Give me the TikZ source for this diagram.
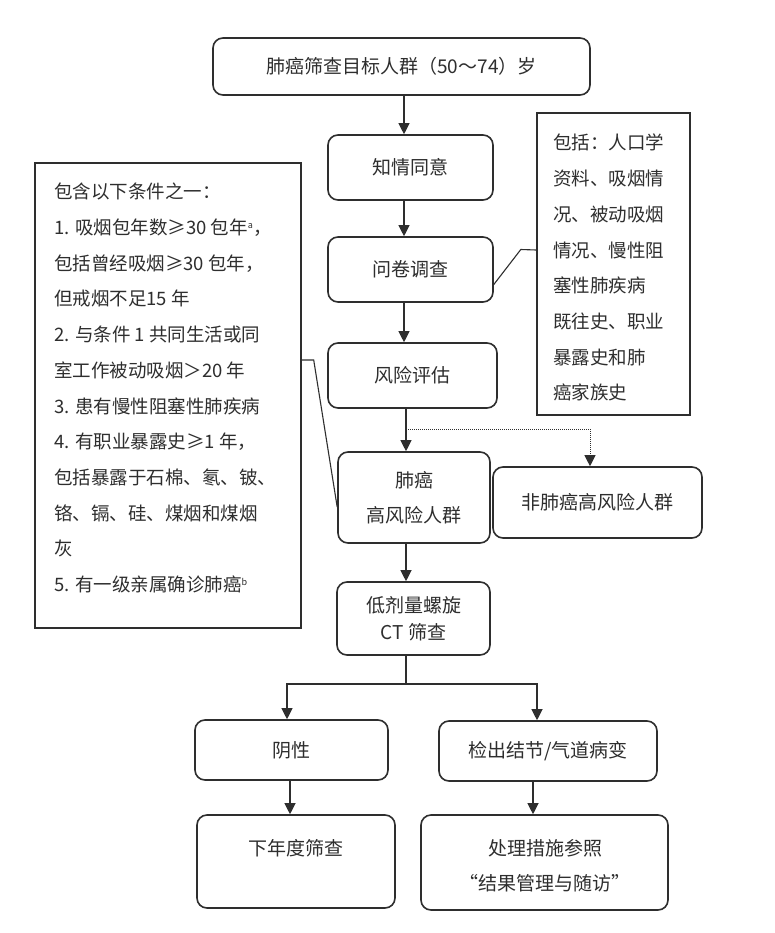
\documentclass[tikz,border=0pt]{standalone}
\usepackage{fontspec}
\setmainfont{Noto Sans CJK SC}
\usetikzlibrary{arrows.meta,calc}
\definecolor{ink}{gray}{0.18}
\begin{document}
\begin{tikzpicture}[x=1pt,y=-1pt,
  rbox/.style={draw=ink, line width=1.6pt, rounded corners=10pt, align=center, inner sep=0pt, text=ink, font=\fontsize{19}{35}\selectfont},
  sbox/.style={draw=ink, line width=1.4pt, inner sep=0pt},
  arr/.style={draw=ink, line width=1.1pt, -{Triangle[length=11pt,width=11pt]}},
  conn/.style={draw=ink, line width=1.1pt},
  dot/.style={draw=ink, line width=1pt, densely dotted, -{Triangle[length=11pt,width=11pt]}},
  txt/.style={text=ink, inner sep=0pt, align=left, font=\fontsize{18.5}{35.7}\selectfont}
]
\useasboundingbox[fill=white] (0,0) rectangle (774,933);

% main boxes
\node[rbox, minimum width=377pt, minimum height=57pt] (top) at (401.5,66.5) {肺癌筛查目标人群（50～74）岁};
\node[rbox, minimum width=165pt, minimum height=65pt] (zq) at (410.5,167.5) {知情同意};
\node[rbox, minimum width=165pt, minimum height=65pt] (wj) at (410.5,269.5) {问卷调查};
\node[rbox, minimum width=169pt, minimum height=65pt] (fx) at (412.5,375.5) {风险评估};
\node[rbox, minimum width=152pt, minimum height=91pt] (gw) at (414,497.5) {肺癌\\高风险人群};
\node[rbox, minimum width=209pt, minimum height=71pt] (fgw) at (597.5,502.5) {非肺癌高风险人群};
\node[rbox, minimum width=153pt, minimum height=73pt, font=\fontsize{19}{27}\selectfont] (ct) at (413.5,618.5) {低剂量螺旋\\CT 筛查};
\node[rbox, minimum width=193pt, minimum height=60pt] (yx) at (291.5,750) {阴性};
\node[rbox, minimum width=218pt, minimum height=60pt] (jc) at (548,751) {检出结节/气道病变};
\node[rbox, minimum width=198pt, minimum height=93pt] (xn) at (296,861.5) {};
\node[txt, align=center, font=\fontsize{19}{35}\selectfont] (xnt) at (296,848) {下年度筛查};
\node[rbox, minimum width=247pt, minimum height=95pt] (cl) at (544.5,862.5) {};
\node[txt, align=center, font=\fontsize{19}{35}\selectfont] (clt) at (545,865.5) {处理措施参照\\“结果管理与随访”};

% side boxes
\node[sbox, minimum width=266pt, minimum height=465pt] (lb) at (168,395.5) {};
\node[txt, anchor=north west] (lbt) at (54,183) {包含以下条件之一：\\
1. 吸烟包年数≥30 包年\textsuperscript{\fontsize{9}{9}\selectfont a}，\\
包括曾经吸烟≥30 包年，\\
但戒烟不足15 年\\
2. 与条件 1 共同生活或同\\
室工作被动吸烟＞20 年\\
3. 患有慢性阻塞性肺疾病\\
4. 有职业暴露史≥1 年，\\
包括暴露于石棉、氡、铍、\\
铬、镉、硅、煤烟和煤烟\\
灰\\
5. 有一级亲属确诊肺癌\textsuperscript{\fontsize{9}{9}\selectfont b}};
\node[sbox, minimum width=153pt, minimum height=302pt] (rb) at (613.5,264) {};
\node[txt, anchor=north west] (rbt) at (553,134) {包括：人口学\\
资料、吸烟情\\
况、被动吸烟\\
情况、慢性阻\\
塞性肺疾病\\
既往史、职业\\
暴露史和肺\\
癌家族史};

% axis coordinates
\coordinate (ax) at (404,0);
\coordinate (ay) at (406,0);
\coordinate (dx) at (590,0);
\coordinate (sy) at (0,684);
\coordinate (dy) at (0,429);
\coordinate (lx) at (287,0);
\coordinate (rx) at (537,0);
\coordinate (lx2) at (290,0);
\coordinate (rx2) at (533,0);

% arrows
\draw[arr] (top.south -| ax) -- (zq.north -| ax);
\draw[arr] (zq.south -| ax) -- (wj.north -| ax);
\draw[arr] (wj.south -| ax) -- (fx.north -| ax);
\draw[arr] (fx.south -| ay) -- (gw.north -| ay);
\draw[dot] (dy -| ay) -- (dy -| dx) -- (fgw.north -| dx);
\draw[arr] (gw.south -| ay) -- (ct.north -| ay);
\draw[conn] (ct.south -| ay) -- (sy -| ay);
\draw[arr] (sy -| ay) -- (sy -| lx) -- (yx.north -| lx);
\draw[arr] (sy -| ay) -- (sy -| rx) -- (jc.north -| rx);
\draw[arr] (yx.south -| lx2) -- (xn.north -| lx2);
\draw[arr] (jc.south -| rx2) -- (cl.north -| rx2);

% side connectors
\draw[conn] ([yshift=-15pt]wj.east) -- ++(27,-35) -- ([yshift=14pt]rb.west);
\draw[conn] ([yshift=35.5pt]lb.east) -- ++(12,0) -- ([yshift=-9.5pt]gw.west);
\end{tikzpicture}
\end{document}
